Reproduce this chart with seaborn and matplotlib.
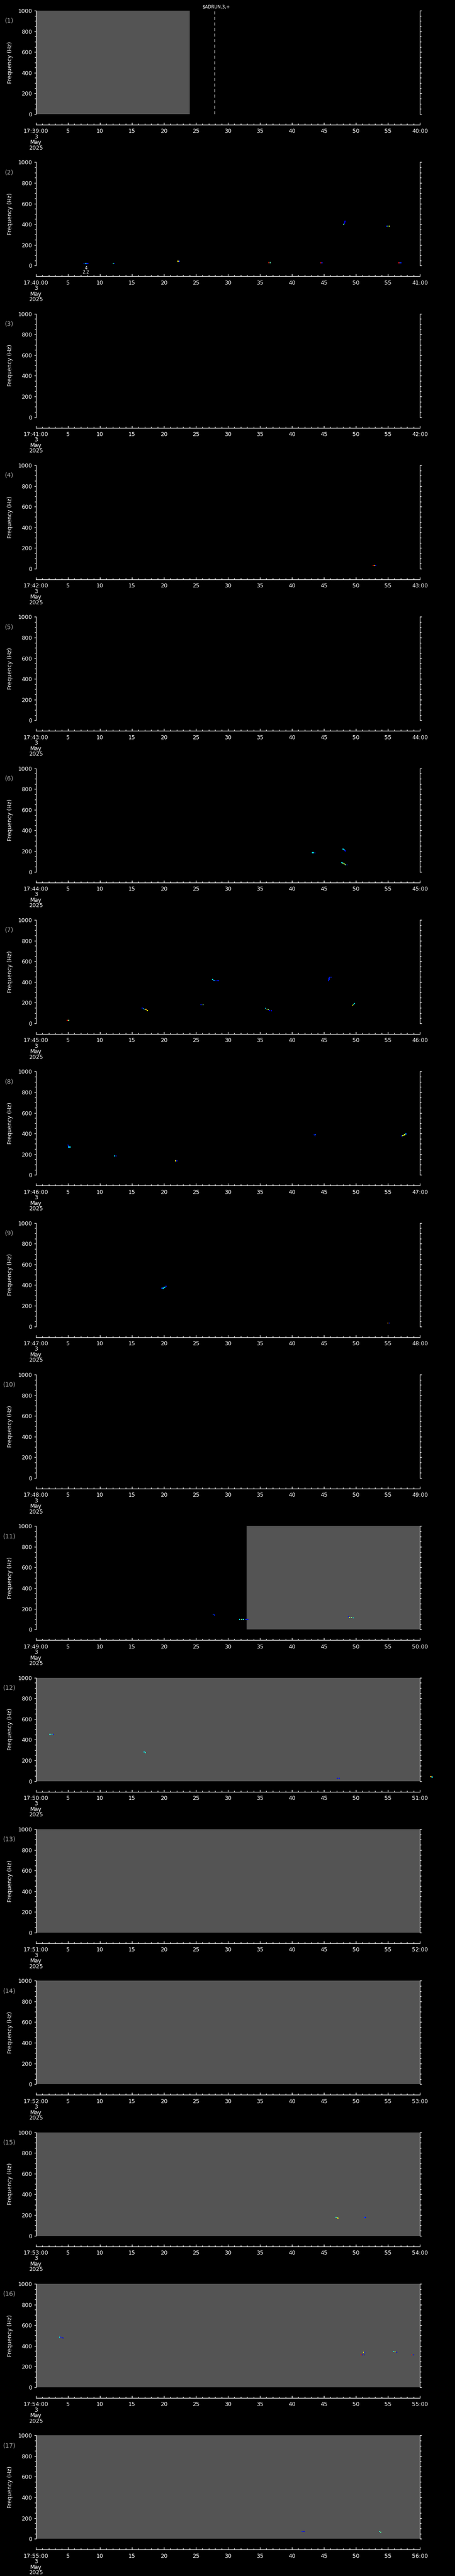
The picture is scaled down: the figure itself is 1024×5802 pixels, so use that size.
import matplotlib
matplotlib.use("Agg")
import matplotlib.pyplot as plt
import matplotlib.transforms as mtransforms
from matplotlib.ticker import MultipleLocator
import pandas as pd
import seaborn as sns

# one panel per minute, first one starts 17:39:00 on 3 May 2025
n_panels = 17
start_minute = 39

# grey area = time span where the spectrogram has data
cov_panel = [1, 11, 12, 13, 14, 15, 16, 17]
cov_start = [0.0, 32.9, 0.0, 0.0, 0.0, 0.0, 0.0, 0.0]
cov_end = [24.0, 60.0, 60.0, 60.0, 60.0, 60.0, 60.0, 60.0]

# small spectral blobs, one list per panel (seconds, Hz, normalised power)
spot_t = [
    [],
    [7.5, 7.7, 7.9, 8.1, 12.1, 12.3, 22.2, 22.4, 36.4, 36.6, 44.5, 44.7,
     48.1, 48.2, 48.25, 48.3, 48.4, 54.8, 55.0, 55.2, 56.7, 56.9, 57.1],
    [],
    [52.7, 52.9, 53.1],
    [],
    [43.2, 43.4, 43.6, 48.0, 48.15, 48.3, 48.4, 47.8, 48.0, 48.2, 48.4, 48.6],
    [4.9, 5.1, 16.6, 16.8, 17.0, 17.2, 17.4, 25.8, 26.1,
     27.6, 27.8, 28.0, 28.3, 28.5, 35.9, 36.1, 36.3, 36.5, 36.8,
     45.7, 45.8, 45.8, 45.9, 46.1, 49.5, 49.65, 49.8],
    [5.0, 5.05, 5.1, 5.3, 12.3, 12.5, 21.8, 22.0, 43.5, 43.7, 43.6,
     57.1, 57.3, 57.5, 57.6, 57.8, 57.9],
    [19.7, 19.9, 20.1, 20.3, 55.0, 55.2],
    [],
    [27.7, 27.9, 31.8, 32.1, 32.4, 32.8, 33.1, 48.8, 49.0, 49.3, 49.6],
    [2.2, 2.5, 2.7, 16.9, 17.1, 47.1, 47.4, 61.7, 61.9],
    [],
    [],
    [46.9, 47.1, 47.2, 51.3, 51.5],
    [3.7, 3.9, 4.1, 4.3, 51.2, 51.4, 50.8, 51.0, 51.3, 55.9, 56.1, 56.4, 58.7, 59.0],
    [41.6, 41.9, 53.7, 53.9],
]
spot_f = [
    [],
    [20, 20, 20, 20, 24, 24, 42, 42, 29, 29, 26, 26,
     400, 410, 420, 430, 430, 382, 382, 382, 28, 27, 27],
    [],
    [29, 29, 29],
    [],
    [185, 185, 183, 220, 212, 205, 199, 88, 82, 76, 70, 66],
    [29, 29, 148, 142, 138, 135, 125, 179, 179,
     425, 415, 413, 413, 413, 146, 138, 132, 124, 122,
     414, 425, 435, 446, 446, 177, 185, 193],
    [288, 280, 270, 270, 184, 184, 136, 136, 388, 392, 380,
     377, 379, 383, 390, 396, 396],
    [370, 370, 378, 389, 32, 32],
    [],
    [147, 140, 98, 98, 98, 98, 98, 124, 116, 116, 112],
    [452, 452, 452, 282, 276, 27, 27, 43, 40],
    [],
    [],
    [179, 175, 170, 177, 177],
    [486, 484, 478, 475, 340, 340, 314, 314, 314, 347, 342, 340, 313, 313],
    [69, 69, 69, 64],
]
spot_v = [
    [],
    [0.15, 0.3, 0.2, 0.1, 0.4, 0.15, 0.65, 0.15, 0.9, 0.45, 0.9, 0.15,
     0.45, 0.1, 0.1, 0.1, 0.1, 0.15, 0.45, 0.6, 0.9, 0.2, 0.1],
    [],
    [0.9, 0.7, 0.1],
    [],
    [0.35, 0.35, 0.1, 0.35, 0.3, 0.15, 0.1, 0.35, 0.5, 0.6, 0.45, 0.15],
    [0.9, 0.5, 0.1, 0.3, 0.35, 0.75, 0.65, 0.15, 0.5,
     0.35, 0.3, 0.15, 0.1, 0.15, 0.35, 0.6, 0.5, 0.1, 0.1,
     0.15, 0.15, 0.15, 0.15, 0.15, 0.65, 0.4, 0.35],
    [0.15, 0.15, 0.3, 0.35, 0.35, 0.15, 0.65, 0.15, 0.15, 0.2, 0.15,
     0.15, 0.55, 0.65, 0.6, 0.35, 0.15],
    [0.15, 0.35, 0.3, 0.15, 0.75, 0.15],
    [],
    [0.2, 0.15, 0.35, 0.5, 0.4, 0.15, 0.1, 0.15, 0.6, 0.5, 0.35],
    [0.4, 0.35, 0.15, 0.35, 0.4, 0.1, 0.15, 0.75, 0.35],
    [],
    [],
    [0.4, 0.55, 0.65, 0.2, 0.15],
    [0.35, 0.15, 0.1, 0.1, 0.65, 0.15, 0.9, 0.1, 0.1, 0.35, 0.6, 0.1, 0.9, 0.1],
    [0.15, 0.1, 0.4, 0.45],
]

# event marker in the first panel, label under the first blob of panel 2
event_t = 27.9
event_text = "$ADRUN,3,+"
note_t = 7.8
note_lines = ["4", "2.2"]

x_ticks = list(range(0, 61, 5))
y_ticks = list(range(0, 1001, 200))

rows = []
for k in range(n_panels):
    for t, f, v in zip(spot_t[k], spot_f[k], spot_v[k]):
        rows.append({"panel": k + 1, "t": t, "f": f, "v": v})
spots = pd.DataFrame(rows)

sns.set_style("ticks")
plt.rcParams["font.family"] = ["DejaVu Sans"]
plt.rcParams["figure.facecolor"] = "black"
plt.rcParams["axes.facecolor"] = "black"

W, H = 1024, 5802
top0, step, ax_h = 24, 341.33, 233
left, ax_w = 81, 864
grey = "#545454"
px = 0.72  # points per pixel at dpi 100
jet = matplotlib.colormaps["jet"]

fig = plt.figure(figsize=(W / 100, H / 100), dpi=100)

for i in range(n_panels):
    p = i + 1
    top = top0 + i * step
    ax = fig.add_axes([left / W, 1 - (top + ax_h) / H, ax_w / W, ax_h / H])
    ax.set_facecolor("black")

    # data coverage
    for cp, cs, ce in zip(cov_panel, cov_start, cov_end):
        if cp == p:
            ax.axvspan(cs, ce, color=grey, lw=0, zorder=0)

    sub = spots[spots["panel"] == p]
    if len(sub):
        sns.scatterplot(data=sub, x="t", y="f", hue="v", palette=jet, hue_norm=(0, 1),
                        marker="s", s=3, linewidth=0, legend=False, ax=ax, clip_on=False, zorder=3)
    ax.set_xlim(0, 60)
    ax.set_ylim(0, 1000)
    ax.set_xlabel("")
    ax.set_ylabel("")

    # axes styling
    ax.spines["top"].set_visible(False)
    for side in ["left", "right", "bottom"]:
        ax.spines[side].set_color("white")
        ax.spines[side].set_linewidth(1.0)
    ax.spines["bottom"].set_position(("outward", 24 * px))

    ax.set_yticks(y_ticks)
    ax.set_yticklabels([str(v) for v in y_ticks])
    ax.yaxis.set_minor_locator(MultipleLocator(50))
    ax.tick_params(axis="y", which="both", direction="out", colors="white",
                   left=True, right=True, labelleft=True, labelright=False, width=1)
    ax.tick_params(axis="y", which="major", length=4 * px, pad=3.5, labelsize=9)
    ax.tick_params(axis="y", which="minor", length=3 * px)

    minute = start_minute + i
    labels = [f"17:{minute:02d}:00\n3\nMay\n2025"] + [str(v) for v in x_ticks[1:-1]] + [f"{minute + 1:02d}:00"]
    ax.set_xticks(x_ticks)
    ax.set_xticklabels(labels)
    ax.xaxis.set_minor_locator(MultipleLocator(1))
    ax.tick_params(axis="x", which="both", direction="in", colors="white", width=1)
    ax.tick_params(axis="x", which="major", length=5 * px, pad=6, labelsize=9)
    ax.tick_params(axis="x", which="minor", length=3 * px)
    for lab in ax.get_xticklabels():
        lab.set_linespacing(0.95)

    ax.text((23 - left) / ax_w, 0.5, "Frequency (Hz)", transform=ax.transAxes, rotation=90,
            ha="center", va="center", color="white", fontsize=9)
    ax.text((21 - left) / ax_w, 1 - 23 / ax_h, f"({p})", transform=ax.transAxes,
            ha="center", va="center", color="#a8a8a8", fontsize=10)

    trans = mtransforms.blended_transform_factory(ax.transData, ax.transAxes)
    if p == 1:
        ax.axvline(event_t, color="white", lw=1, ls=(0, (5, 4)), zorder=4)
        ax.text(event_t - 1.9, 1 + 9 / ax_h, event_text, transform=trans,
                ha="left", va="center", color="white", fontsize=7, clip_on=False)
    if p == 2:
        ax.text(note_t, -6 / ax_h, note_lines[0], transform=trans, ha="center", va="center",
                color="white", fontsize=7)
        ax.text(note_t, -15 / ax_h, note_lines[1], transform=trans, ha="center", va="center",
                color="white", fontsize=7)

fig.savefig("out.png", dpi=100, facecolor="black")
